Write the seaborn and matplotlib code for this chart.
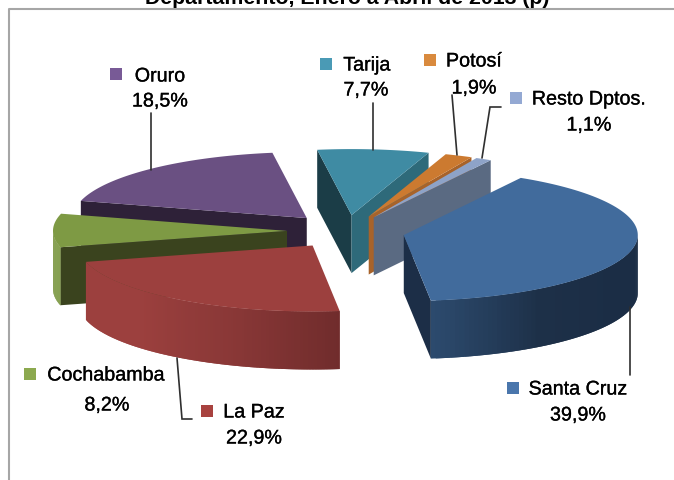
import numpy as np
import matplotlib
matplotlib.use('Agg')
import matplotlib.pyplot as plt
import matplotlib.patheffects as pe
import seaborn as sns

# Data
DEPTOS = ['Santa Cruz', 'La Paz', 'Cochabamba', 'Oruro', 'Tarija', 'Potosí', 'Resto Dptos.']
PCT = [39.9, 22.9, 8.2, 18.5, 7.7, 1.9, 1.1]
PCT_LABELS = ['39,9%', '22,9%', '8,2%', '18,5%', '7,7%', '1,9%', '1,1%']
TITLE = 'Departamento, Enero a Abril de 2013 (p)'

# Colours per slice
MARKER_COLORS = ['#4a76ac', '#a8423f', '#8ca94f', '#785a96', '#4a9ab5', '#d98a3e', '#94a9d3']
TOP_COLORS = ['#416b9c', '#9c403e', '#7e9a44', '#6a5082', '#3f8ba3', '#cc7a30', '#8ea3c8']
START_CUT_COLORS = ['#1c2e47', '#722e2d', '#3a431e', '#2e2138', '#1b3d47', '#a8632a', '#5a6a82']
END_CUT_COLORS = ['#1c2e47', '#722e2d', '#3a431e', '#2e2138', '#2e6a7a', '#a8632a', '#5a6a82']
RIM_COLORS = [['#2c4a6d', '#1d3048', '#1b2d45', '#1b2d45'],
              ['#9c403e', '#9c403e', '#8a3837', '#702c2c'],
              ['#7e9a44', '#7e9a44'],
              ['#6a5082', '#6a5082'],
              ['#3f8ba3', '#3f8ba3'],
              ['#cc7a30', '#cc7a30'],
              ['#8ea3c8', '#8ea3c8']]

# Pie geometry, in pixels of the figure
START_CLOCK = 30.0
RX, RY, DEPTH = 234, 66, 58
CX, CY = 346, 233
EXPLODE_X, EXPLODE_Y = 59, 20
NUDGE_Y = [-2, -4, -2, 0, 2, 2, 2]

# Label layout: marker, first line, second line
MARKER_POS = [(513, 388), (207, 411), (30, 374), (116, 74), (326, 64), (430, 60), (516, 98)]
NAME_POS = [(578, 389), (254, 412), (106, 375), (160, 76), (367, 65), (474, 61), (589, 99)]
PCT_POS = [(578, 415), (254, 438), (107, 405), (160, 101), (366, 90), (474, 88), (589, 125)]
LEADERS = [([630, 630], [307, 375]),
           ([177, 182, 192], [358, 419, 419]),
           ([151, 151], [113, 170]),
           ([373, 373], [103, 150]),
           ([452, 457], [95, 155]),
           ([501, 490, 482], [107, 107, 158])]

DRAW_ORDER = [3, 2, 1, 4, 5, 6, 0]

sns.set_theme(style='white')
plt.rcParams['font.family'] = ['Liberation Sans', 'DejaVu Sans']

fig = plt.figure(figsize=(6.74, 4.8), dpi=100)
ax = fig.add_axes([0, 0, 1, 1])

pct = np.array(PCT)
spans = pct / pct.sum() * 360
starts = START_CLOCK + np.concatenate([[0], np.cumsum(spans)[:-1]])


def rim_xy(cx, cy, clock):
    rad = np.radians(clock)
    return cx + RX * np.sin(rad), cy - RY * np.cos(rad)


def draw_cut(ax, cx, cy, px, py, color, z):
    ax.fill([cx, px, px, cx], [cy, py, py + DEPTH, cy + DEPTH],
            color=color, lw=0, zorder=z)


for z, i in enumerate(DRAW_ORDER):
    start, span = starts[i], spans[i]
    end = start + span
    mid = np.radians(start + span / 2)
    cx = CX + EXPLODE_X * np.sin(mid)
    cy = CY - EXPLODE_Y * np.cos(mid) + NUDGE_Y[i]
    clocks = np.linspace(start, end, 120)
    xs, ys = rim_xy(cx, cy, clocks)
    base = z * 10 + 2

    # a cut side shows only when it turns towards the viewer
    if np.sin(np.radians(start)) < 0:
        draw_cut(ax, cx, cy, *rim_xy(cx, cy, start), START_CUT_COLORS[i], base)
    if np.sin(np.radians(end)) > 0:
        draw_cut(ax, cx, cy, *rim_xy(cx, cy, end), END_CUT_COLORS[i], base)

    # outer rim: shaded strip of overlapping quads
    front = np.where(np.cos(np.radians(clocks)) < 0.02)[0]
    if len(front) > 2:
        shades = sns.blend_palette(RIM_COLORS[i], n_colors=len(front))
        order = front if xs[front[0]] < xs[front[-1]] else front[::-1]
        for k in range(len(order) - 1):
            a, b = order[k], order[min(k + 2, len(order) - 1)]
            ax.fill([xs[a], xs[b], xs[b], xs[a]],
                    [ys[a], ys[b], ys[b] + DEPTH, ys[a] + DEPTH],
                    color=shades[k], lw=0, zorder=base + 1)

    # top face
    ax.fill(np.r_[cx, xs], np.r_[cy, ys], color=TOP_COLORS[i], lw=0, zorder=base + 2)

# Leader lines
for lx, ly in LEADERS:
    ax.plot(lx, ly, color='#2f2f2f', lw=1.2, zorder=90, solid_joinstyle='miter')

# Legend squares
sns.scatterplot(x=[p[0] for p in MARKER_POS], y=[p[1] for p in MARKER_POS],
                hue=DEPTOS, palette=MARKER_COLORS, marker='s', s=80,
                linewidth=0, legend=False, ax=ax, zorder=91)
ax.set_xlim(0, 674)
ax.set_ylim(480, 0)
ax.axis('off')

heavy = [pe.withStroke(linewidth=0.2, foreground='black')]
for name, label, npos, ppos in zip(DEPTOS, PCT_LABELS, NAME_POS, PCT_POS):
    ax.text(npos[0], npos[1], name, ha='center', va='center', fontsize=14.2,
            color='black', zorder=92, path_effects=heavy)
    ax.text(ppos[0], ppos[1], label, ha='center', va='center', fontsize=14.2,
            color='black', zorder=92, path_effects=heavy)

# Frame and cut-off title
ax.plot([9, 9, 674], [480, 9, 9], color='#a6a6a6', lw=1.5, zorder=1)
ax.text(347, 3.5, TITLE, ha='center', va='baseline', fontsize=15.3,
        fontweight='bold', color='black', zorder=92)

fig.savefig('out.png', dpi=100, facecolor='white')
plt.close(fig)
